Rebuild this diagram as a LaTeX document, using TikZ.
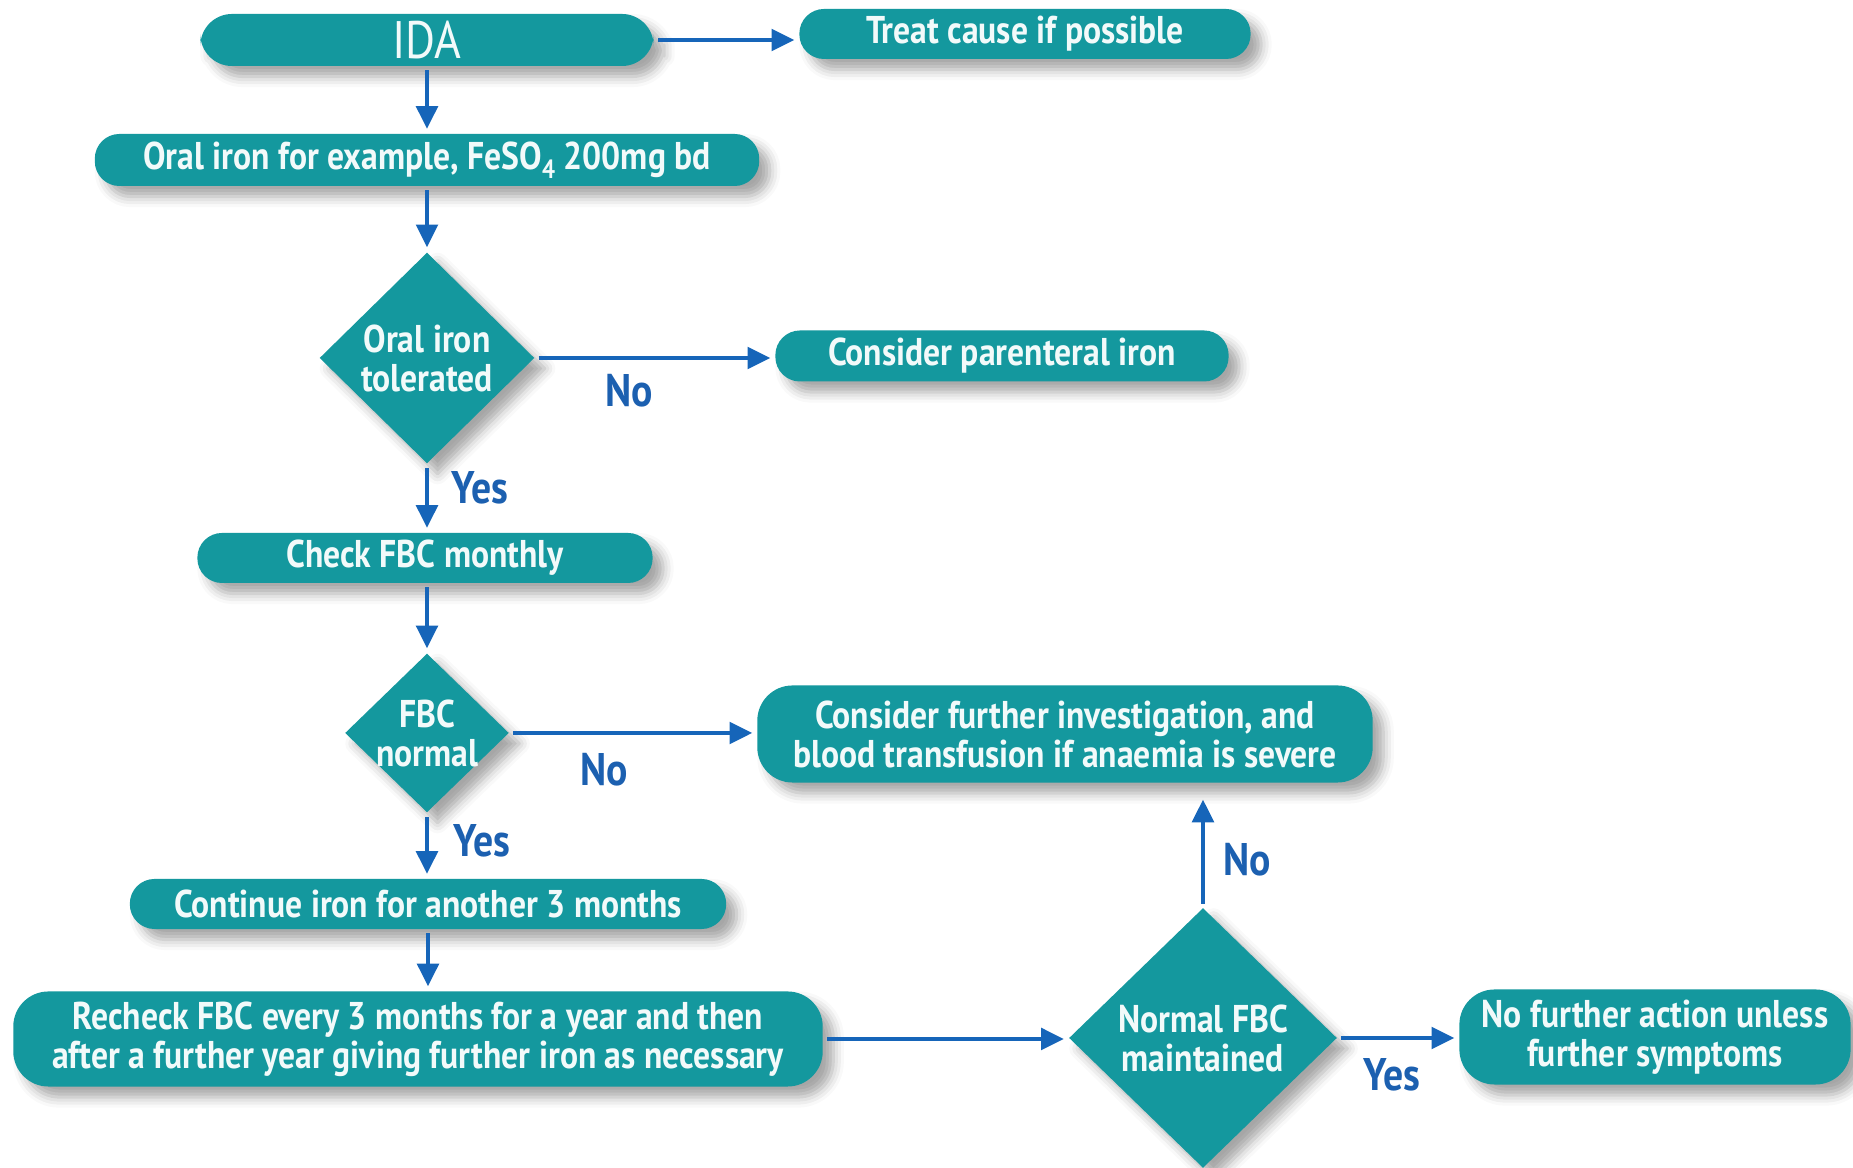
\documentclass[tikz,border=0pt]{standalone}
\usepackage{fontspec}
\setmainfont{PT Sans}[FakeStretch=0.87]
\usetikzlibrary{shapes.geometric,arrows.meta,shadows.blur}

\definecolor{boxteal}{RGB}{20,152,158}
\definecolor{arrowblue}{RGB}{22,101,185}
\definecolor{labelblue}{RGB}{28,96,176}
\definecolor{boxtext}{RGB}{242,250,250}

\tikzset{
  boxshadow/.style={blur shadow={shadow xshift=3pt,shadow yshift=-3pt,shadow blur radius=3pt,shadow opacity=35}},
  stepbox/.style={draw=none,fill=boxteal,boxshadow,rounded corners=7pt,inner sep=0pt,
    text=boxtext,align=center,font=\fontsize{11}{11.1}\selectfont\bfseries},
  decision/.style={diamond,draw=none,fill=boxteal,boxshadow,inner sep=0pt,aspect=1},
  dtext/.style={text=boxtext,align=center,font=\fontsize{11}{11.1}\selectfont\bfseries},
  flow/.style={draw=arrowblue,line width=1.4pt,-{Triangle[length=6.5pt,width=6pt]},
    shorten >=1.2pt,shorten <=1pt},
  answer/.style={text=labelblue,font=\fontsize{13}{15}\selectfont\bfseries},
}

\begin{document}
\begin{tikzpicture}[x=0.01cm,y=-0.01cm]
\useasboundingbox (0,0) rectangle (1853,1168);
\clip (0,0) rectangle (1853,1168);

% boxes
\node[stepbox,minimum width=4.53cm,minimum height=0.52cm,rounded corners=9pt,
      font=\fontsize{15}{17}\selectfont] (ida) at (427,40) {IDA};
\node[stepbox,minimum width=4.51cm,minimum height=0.50cm] (treat) at (1025,34) {Treat cause if possible};
\node[stepbox,minimum width=6.64cm,minimum height=0.52cm] (oral) at (427,160)
  {Oral iron for example, FeSO\raisebox{-0.45ex}{\fontsize{7.5}{8}\selectfont 4} 200mg bd};
\node[decision,minimum width=2.15cm,minimum height=2.11cm] (d1) at (427,358) {};
\node[dtext] (d1t) at (d1.center) {Oral iron\\tolerated};
\node[stepbox,minimum width=4.53cm,minimum height=0.51cm] (parent) at (1002,356) {Consider parenteral iron};
\node[stepbox,minimum width=4.55cm,minimum height=0.50cm] (check) at (425,558) {Check FBC monthly};
\node[decision,minimum width=1.64cm,minimum height=1.59cm] (d2) at (427,733) {};
\node[dtext] (d2t) at (d2.center) {FBC\\normal};
\node[stepbox,minimum width=6.15cm,minimum height=0.97cm,rounded corners=10pt] (inv) at (1065,734)
  {Consider further investigation, and\\blood transfusion if anaemia is severe};
\node[stepbox,minimum width=5.96cm,minimum height=0.50cm] (cont) at (428,904) {Continue iron for another 3 months};
\node[stepbox,minimum width=8.09cm,minimum height=0.95cm,rounded corners=10pt] (recheck) at (418,1039)
  {Recheck FBC every 3 months for a year and then\\after a further year giving further iron as necessary};
\node[decision,minimum width=2.68cm,minimum height=2.60cm] (d3) at (1203,1038) {};
\node[dtext] (d3t) at (d3.center) {Normal FBC\\maintained};
\node[stepbox,minimum width=3.91cm,minimum height=0.95cm,rounded corners=10pt] (nofurther) at (1655,1037)
  {No further action unless\\further symptoms};

% connectors
\draw[flow] (ida.east) -- (ida.east -| treat.west);
\draw[flow] (ida.south) -- (ida.south |- oral.north);
\draw[flow] (oral.south) -- (d1.north);
\draw[flow] (d1.east) -- (d1.east -| parent.west);
\draw[flow] (d1.south) -- (d1.south |- check.north);
\draw[flow] (check.south -| d2.north) -- (d2.north);
\draw[flow] (d2.east) -- (d2.east -| inv.west);
\draw[flow] (d2.south) -- (d2.south |- cont.north);
\draw[flow] (cont.south) -- (cont.south |- recheck.north);
\draw[flow] (recheck.east) -- (recheck.east -| d3.west);
\draw[flow,shorten >=4.6pt] (d3.north) -- (d3.north |- inv.south);
\draw[flow] (d3.east) -- (d3.east -| nofurther.west);

% answers
\node[answer] (no1) at (629,391) {No};
\node[answer] (yes1) at (480,488) {Yes};
\node[answer] (no2) at (604,770) {No};
\node[answer] (yes2) at (482,841) {Yes};
\node[answer] (no3) at (1247,860) {No};
\node[answer] (yes3) at (1392,1075) {Yes};
\end{tikzpicture}
\end{document}
